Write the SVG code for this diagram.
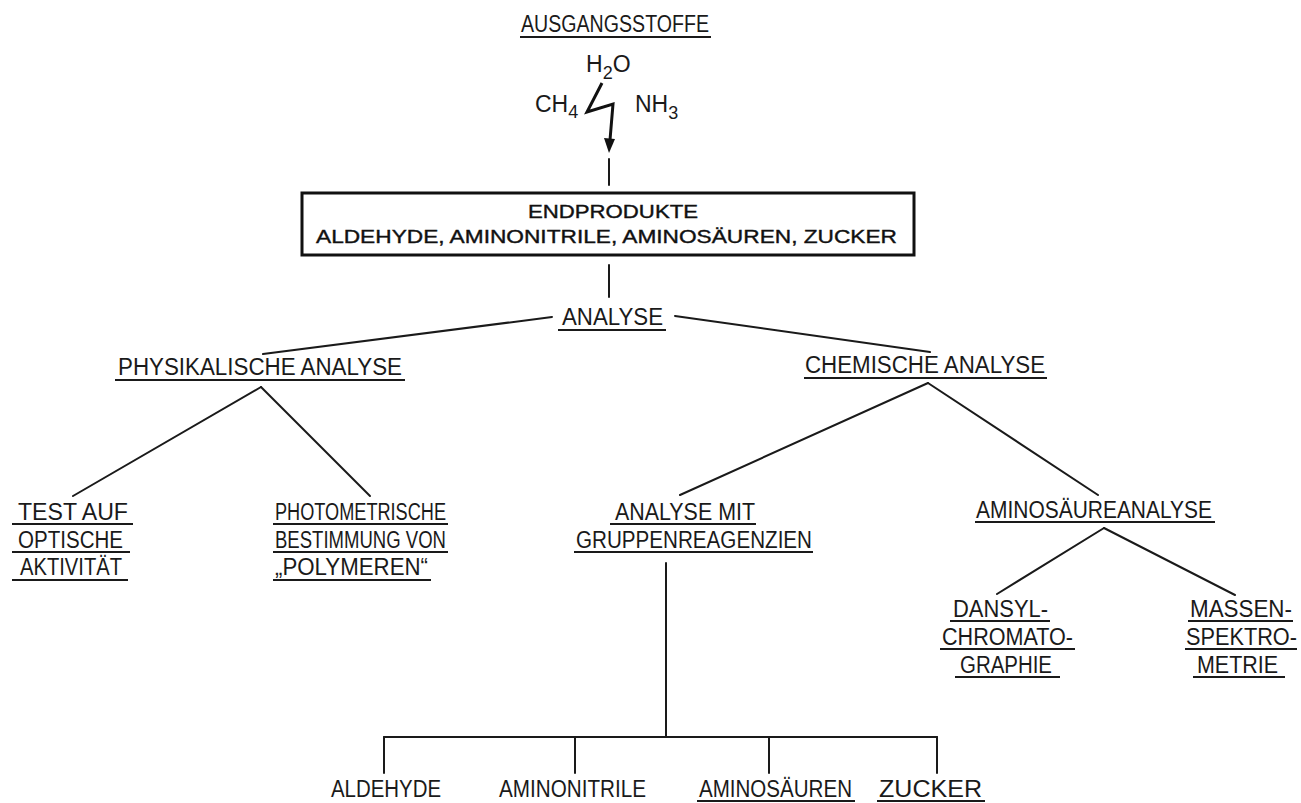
<svg xmlns="http://www.w3.org/2000/svg" width="1301" height="803" viewBox="0 0 1301 803">
<style>
.t{font-family:"Liberation Sans","DejaVu Sans",sans-serif;font-size:23px;fill:#1a1a1a;}
.b{font-family:"Liberation Sans","DejaVu Sans",sans-serif;font-size:19px;fill:#111;stroke:#111;stroke-width:0.4;}
.u{stroke:#1a1a1a;stroke-width:2;fill:none;}
.c{stroke:#1a1a1a;stroke-width:2;fill:none;stroke-linecap:round;}
</style>
<rect width="1301" height="803" fill="#fff"/>

<g id="connectors">
<polyline points="602,83 587,112 613,104 610,140" stroke="#111" stroke-width="3" fill="none" stroke-linejoin="miter"/>
<polygon points="604,138 615,139 609,153" fill="#111"/>
<line class="c" x1="609" y1="159" x2="609" y2="185"/>
<line class="c" x1="609" y1="265" x2="609" y2="297"/>
<line class="c" x1="552" y1="317" x2="263" y2="354"/>
<line class="c" x1="675" y1="316" x2="930" y2="352"/>
<line class="c" x1="261" y1="387" x2="73" y2="496"/>
<line class="c" x1="261" y1="387" x2="370" y2="496"/>
<line class="c" x1="928" y1="383" x2="680" y2="495"/>
<line class="c" x1="928" y1="383" x2="1098" y2="495"/>
<line class="c" x1="1104" y1="528" x2="997" y2="594"/>
<line class="c" x1="1104" y1="528" x2="1235" y2="595"/>
<line class="c" x1="666" y1="563" x2="666" y2="737"/>
<line class="c" x1="384" y1="737" x2="937" y2="737"/>
<line class="c" x1="384" y1="737" x2="384" y2="773"/>
<line class="c" x1="575" y1="737" x2="575" y2="773"/>
<line class="c" x1="769" y1="737" x2="769" y2="773"/>
<line class="c" x1="937" y1="737" x2="937" y2="773"/>
</g>

<g id="ausgangsstoffe">
<text class="t" x="521" y="32" textLength="188" lengthAdjust="spacingAndGlyphs">AUSGANGSSTOFFE</text>
<line class="u" x1="520" y1="37" x2="711" y2="37"/>
<text class="t" x="586" y="72">H<tspan font-size="18" dy="7">2</tspan><tspan dy="-7">O</tspan></text>
<text class="t" x="535" y="112">CH<tspan font-size="18" dy="6">4</tspan></text>
<text class="t" x="635" y="112">NH<tspan font-size="18" dy="7">3</tspan></text>
</g>

<g id="endprodukte">
<rect x="302" y="193" width="612" height="62" fill="none" stroke="#111" stroke-width="3"/>
<text class="b" x="528" y="218" textLength="170" lengthAdjust="spacingAndGlyphs">ENDPRODUKTE</text>
<text class="b" x="316" y="243" textLength="581" lengthAdjust="spacingAndGlyphs">ALDEHYDE, AMINONITRILE, AMINOSÄUREN, ZUCKER</text>
</g>

<g id="analyse">
<text class="t" x="562" y="325" textLength="101" lengthAdjust="spacingAndGlyphs">ANALYSE</text>
<line class="u" x1="558" y1="330" x2="666" y2="330"/>
</g>

<g id="physikalische">
<text class="t" x="118" y="375" textLength="284" lengthAdjust="spacingAndGlyphs">PHYSIKALISCHE ANALYSE</text>
<line class="u" x1="115" y1="380" x2="405" y2="380"/>
</g>

<g id="chemische">
<text class="t" x="805" y="373" textLength="240" lengthAdjust="spacingAndGlyphs">CHEMISCHE ANALYSE</text>
<line class="u" x1="804" y1="378" x2="1047" y2="378"/>
</g>

<g id="test">
<text class="t" x="18" y="520" textLength="110" lengthAdjust="spacingAndGlyphs">TEST AUF</text>
<line class="u" x1="12" y1="524" x2="133" y2="524"/>
<text class="t" x="18" y="548" textLength="105" lengthAdjust="spacingAndGlyphs">OPTISCHE</text>
<line class="u" x1="12" y1="552" x2="130" y2="552"/>
<text class="t" x="20" y="575" textLength="102" lengthAdjust="spacingAndGlyphs">AKTIVITÄT</text>
<line class="u" x1="12" y1="580" x2="128" y2="580"/>
</g>

<g id="photometrische">
<text class="t" x="275" y="520" textLength="171" lengthAdjust="spacingAndGlyphs">PHOTOMETRISCHE</text>
<line class="u" x1="273" y1="524" x2="448" y2="524"/>
<text class="t" x="275" y="548" textLength="171" lengthAdjust="spacingAndGlyphs">BESTIMMUNG VON</text>
<line class="u" x1="273" y1="552" x2="448" y2="552"/>
<text class="t" x="275" y="575" textLength="153" lengthAdjust="spacingAndGlyphs">„POLYMEREN“</text>
<line class="u" x1="273" y1="580" x2="431" y2="580"/>
</g>

<g id="gruppenreagenzien">
<text class="t" x="615" y="520" textLength="140" lengthAdjust="spacingAndGlyphs">ANALYSE MIT</text>
<line class="u" x1="610" y1="524" x2="756" y2="524"/>
<text class="t" x="576" y="548" textLength="236" lengthAdjust="spacingAndGlyphs">GRUPPENREAGENZIEN</text>
<line class="u" x1="574" y1="552" x2="813" y2="552"/>
</g>

<g id="aminosaeureanalyse">
<text class="t" x="976" y="518" textLength="236" lengthAdjust="spacingAndGlyphs">AMINOSÄUREANALYSE</text>
<line class="u" x1="975" y1="522" x2="1215" y2="522"/>
</g>

<g id="dansyl">
<text class="t" x="953" y="617" textLength="95" lengthAdjust="spacingAndGlyphs">DANSYL-</text>
<line class="u" x1="950" y1="621" x2="1050" y2="621"/>
<text class="t" x="942" y="645" textLength="131" lengthAdjust="spacingAndGlyphs">CHROMATO-</text>
<line class="u" x1="940" y1="649" x2="1075" y2="649"/>
<text class="t" x="960" y="673" textLength="92" lengthAdjust="spacingAndGlyphs">GRAPHIE</text>
<line class="u" x1="955" y1="677" x2="1060" y2="677"/>
</g>

<g id="massen">
<text class="t" x="1190" y="617" textLength="102" lengthAdjust="spacingAndGlyphs">MASSEN-</text>
<line class="u" x1="1188" y1="621" x2="1293" y2="621"/>
<text class="t" x="1186" y="645" textLength="111" lengthAdjust="spacingAndGlyphs">SPEKTRO-</text>
<line class="u" x1="1185" y1="649" x2="1297" y2="649"/>
<text class="t" x="1197" y="673" textLength="81" lengthAdjust="spacingAndGlyphs">METRIE</text>
<line class="u" x1="1193" y1="677" x2="1285" y2="677"/>
</g>

<g id="aldehyde">
<text class="t" x="331" y="797" textLength="110" lengthAdjust="spacingAndGlyphs">ALDEHYDE</text>
</g>
<g id="aminonitrile">
<text class="t" x="499" y="797" textLength="147" lengthAdjust="spacingAndGlyphs">AMINONITRILE</text>
</g>
<g id="aminosaeuren">
<text class="t" x="699" y="797" textLength="153" lengthAdjust="spacingAndGlyphs">AMINOSÄUREN</text>
<line class="u" x1="697" y1="801" x2="855" y2="801"/>
</g>
<g id="zucker">
<text class="t" x="879" y="797" textLength="103" lengthAdjust="spacingAndGlyphs">ZUCKER</text>
<line class="u" x1="877" y1="801" x2="985" y2="801"/>
</g>
</svg>
